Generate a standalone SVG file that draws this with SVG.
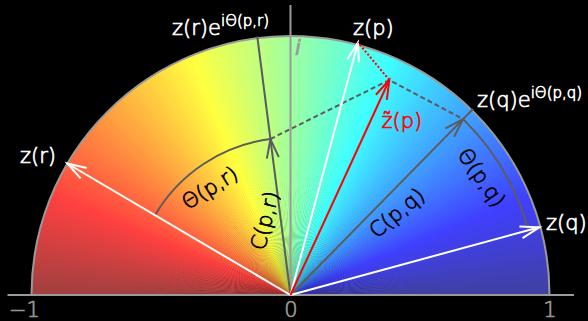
<svg xmlns="http://www.w3.org/2000/svg" xmlns:xlink="http://www.w3.org/1999/xlink" width="588" height="321" viewBox="0 0 588 321">
<style>
.t{font-family:"DejaVu Sans","Liberation Sans",sans-serif;font-size:21px;font-weight:200;stroke-width:0.7}
.w{fill:#fff;stroke:#fff}
.k{fill:#000;stroke:#000}
.rd{fill:#f00;stroke:#f00}
.g{fill:#9a9a9a;stroke:#9a9a9a}
.ax{stroke:#9a9a9a;stroke-width:2;fill:none}
.vw{stroke:#fff;stroke-width:2;fill:none}
.vr{stroke:#f00;stroke-width:2;fill:none}
.vg{stroke:#5c5c5c;stroke-width:2;fill:none}
.dash{stroke:#5c5c5c;stroke-width:2;fill:none;stroke-dasharray:5 3}
.dot{stroke:#f00;stroke-width:2;fill:none;stroke-dasharray:2 2}
</style>
<defs>
<polygon id="w" points="0,0 262,0 261.93,-5.94"/>
<clipPath id="half"><path d="M-259,0 A259,259 0 0 1 259,0 Z"/></clipPath>
<marker id="aw" markerUnits="userSpaceOnUse" markerWidth="24" markerHeight="16" viewBox="-22 -8 24 16" refX="0" refY="0" orient="auto" overflow="visible"><path d="M-19,-6 L0,0 L-19,6" fill="none" stroke="#fff" stroke-width="2"/></marker>
<marker id="ar" markerUnits="userSpaceOnUse" markerWidth="24" markerHeight="16" viewBox="-22 -8 24 16" refX="0" refY="0" orient="auto" overflow="visible"><path d="M-19,-6 L0,0 L-19,6" fill="none" stroke="#f00" stroke-width="2"/></marker>
<marker id="ag" markerUnits="userSpaceOnUse" markerWidth="24" markerHeight="16" viewBox="-22 -8 24 16" refX="0" refY="0" orient="auto" overflow="visible"><path d="M-19,-6 L0,0 L-19,6" fill="none" stroke="#5c5c5c" stroke-width="2"/></marker>
</defs>
<rect width="588" height="321" fill="#000"/>
<g id="wheel" transform="translate(290.5 295)" clip-path="url(#half)">
<use href="#w" fill="#4040a2"/>
<use href="#w" transform="rotate(-1)" fill="#4040a6"/>
<use href="#w" transform="rotate(-2)" fill="#4040aa"/>
<use href="#w" transform="rotate(-3)" fill="#4040ae"/>
<use href="#w" transform="rotate(-4)" fill="#4040b3"/>
<use href="#w" transform="rotate(-5)" fill="#4040b7"/>
<use href="#w" transform="rotate(-6)" fill="#4040bb"/>
<use href="#w" transform="rotate(-7)" fill="#4040bf"/>
<use href="#w" transform="rotate(-8)" fill="#4040c4"/>
<use href="#w" transform="rotate(-9)" fill="#4040c8"/>
<use href="#w" transform="rotate(-10)" fill="#4040cc"/>
<use href="#w" transform="rotate(-11)" fill="#4040d0"/>
<use href="#w" transform="rotate(-12)" fill="#4040d5"/>
<use href="#w" transform="rotate(-13)" fill="#4040d9"/>
<use href="#w" transform="rotate(-14)" fill="#4040dd"/>
<use href="#w" transform="rotate(-15)" fill="#4040e1"/>
<use href="#w" transform="rotate(-16)" fill="#4040e6"/>
<use href="#w" transform="rotate(-17)" fill="#4040ea"/>
<use href="#w" transform="rotate(-18)" fill="#4040ee"/>
<use href="#w" transform="rotate(-19)" fill="#4040f2"/>
<use href="#w" transform="rotate(-20)" fill="#4040f7"/>
<use href="#w" transform="rotate(-21)" fill="#4040fb"/>
<use href="#w" transform="rotate(-22)" fill="#4040ff"/>
<use href="#w" transform="rotate(-23)" fill="#4044ff"/>
<use href="#w" transform="rotate(-24)" fill="#4048ff"/>
<use href="#w" transform="rotate(-25)" fill="#404dff"/>
<use href="#w" transform="rotate(-26)" fill="#4051ff"/>
<use href="#w" transform="rotate(-27)" fill="#4055ff"/>
<use href="#w" transform="rotate(-28)" fill="#4059ff"/>
<use href="#w" transform="rotate(-29)" fill="#405eff"/>
<use href="#w" transform="rotate(-30)" fill="#4062ff"/>
<use href="#w" transform="rotate(-31)" fill="#4066ff"/>
<use href="#w" transform="rotate(-32)" fill="#406aff"/>
<use href="#w" transform="rotate(-33)" fill="#406fff"/>
<use href="#w" transform="rotate(-34)" fill="#4073ff"/>
<use href="#w" transform="rotate(-35)" fill="#4077ff"/>
<use href="#w" transform="rotate(-36)" fill="#407bff"/>
<use href="#w" transform="rotate(-37)" fill="#4080ff"/>
<use href="#w" transform="rotate(-38)" fill="#4084ff"/>
<use href="#w" transform="rotate(-39)" fill="#4088ff"/>
<use href="#w" transform="rotate(-40)" fill="#408cff"/>
<use href="#w" transform="rotate(-41)" fill="#4091ff"/>
<use href="#w" transform="rotate(-42)" fill="#4095ff"/>
<use href="#w" transform="rotate(-43)" fill="#4099ff"/>
<use href="#w" transform="rotate(-44)" fill="#409dff"/>
<use href="#w" transform="rotate(-45)" fill="#40a2ff"/>
<use href="#w" transform="rotate(-46)" fill="#40a6ff"/>
<use href="#w" transform="rotate(-47)" fill="#40aaff"/>
<use href="#w" transform="rotate(-48)" fill="#40aeff"/>
<use href="#w" transform="rotate(-49)" fill="#40b3ff"/>
<use href="#w" transform="rotate(-50)" fill="#40b7ff"/>
<use href="#w" transform="rotate(-51)" fill="#40bbff"/>
<use href="#w" transform="rotate(-52)" fill="#40bfff"/>
<use href="#w" transform="rotate(-53)" fill="#40c4ff"/>
<use href="#w" transform="rotate(-54)" fill="#40c8ff"/>
<use href="#w" transform="rotate(-55)" fill="#40ccff"/>
<use href="#w" transform="rotate(-56)" fill="#40d0ff"/>
<use href="#w" transform="rotate(-57)" fill="#40d5ff"/>
<use href="#w" transform="rotate(-58)" fill="#40d9ff"/>
<use href="#w" transform="rotate(-59)" fill="#40ddff"/>
<use href="#w" transform="rotate(-60)" fill="#40e1ff"/>
<use href="#w" transform="rotate(-61)" fill="#40e6ff"/>
<use href="#w" transform="rotate(-62)" fill="#40eaff"/>
<use href="#w" transform="rotate(-63)" fill="#40eeff"/>
<use href="#w" transform="rotate(-64)" fill="#40f2ff"/>
<use href="#w" transform="rotate(-65)" fill="#40f7ff"/>
<use href="#w" transform="rotate(-66)" fill="#40fbff"/>
<use href="#w" transform="rotate(-67)" fill="#40ffff"/>
<use href="#w" transform="rotate(-68)" fill="#44fffb"/>
<use href="#w" transform="rotate(-69)" fill="#48fff7"/>
<use href="#w" transform="rotate(-70)" fill="#4dfff2"/>
<use href="#w" transform="rotate(-71)" fill="#51ffee"/>
<use href="#w" transform="rotate(-72)" fill="#55ffea"/>
<use href="#w" transform="rotate(-73)" fill="#59ffe6"/>
<use href="#w" transform="rotate(-74)" fill="#5effe1"/>
<use href="#w" transform="rotate(-75)" fill="#62ffdd"/>
<use href="#w" transform="rotate(-76)" fill="#66ffd9"/>
<use href="#w" transform="rotate(-77)" fill="#6affd5"/>
<use href="#w" transform="rotate(-78)" fill="#6fffd0"/>
<use href="#w" transform="rotate(-79)" fill="#73ffcc"/>
<use href="#w" transform="rotate(-80)" fill="#77ffc8"/>
<use href="#w" transform="rotate(-81)" fill="#7bffc4"/>
<use href="#w" transform="rotate(-82)" fill="#80ffbf"/>
<use href="#w" transform="rotate(-83)" fill="#84ffbb"/>
<use href="#w" transform="rotate(-84)" fill="#88ffb7"/>
<use href="#w" transform="rotate(-85)" fill="#8cffb3"/>
<use href="#w" transform="rotate(-86)" fill="#91ffae"/>
<use href="#w" transform="rotate(-87)" fill="#95ffaa"/>
<use href="#w" transform="rotate(-88)" fill="#99ffa6"/>
<use href="#w" transform="rotate(-89)" fill="#9dffa2"/>
<use href="#w" transform="rotate(-90)" fill="#a2ff9d"/>
<use href="#w" transform="rotate(-91)" fill="#a6ff99"/>
<use href="#w" transform="rotate(-92)" fill="#aaff95"/>
<use href="#w" transform="rotate(-93)" fill="#aeff91"/>
<use href="#w" transform="rotate(-94)" fill="#b3ff8c"/>
<use href="#w" transform="rotate(-95)" fill="#b7ff88"/>
<use href="#w" transform="rotate(-96)" fill="#bbff84"/>
<use href="#w" transform="rotate(-97)" fill="#bfff80"/>
<use href="#w" transform="rotate(-98)" fill="#c4ff7b"/>
<use href="#w" transform="rotate(-99)" fill="#c8ff77"/>
<use href="#w" transform="rotate(-100)" fill="#ccff73"/>
<use href="#w" transform="rotate(-101)" fill="#d0ff6f"/>
<use href="#w" transform="rotate(-102)" fill="#d5ff6a"/>
<use href="#w" transform="rotate(-103)" fill="#d9ff66"/>
<use href="#w" transform="rotate(-104)" fill="#ddff62"/>
<use href="#w" transform="rotate(-105)" fill="#e1ff5e"/>
<use href="#w" transform="rotate(-106)" fill="#e6ff59"/>
<use href="#w" transform="rotate(-107)" fill="#eaff55"/>
<use href="#w" transform="rotate(-108)" fill="#eeff51"/>
<use href="#w" transform="rotate(-109)" fill="#f2ff4d"/>
<use href="#w" transform="rotate(-110)" fill="#f7ff48"/>
<use href="#w" transform="rotate(-111)" fill="#fbff44"/>
<use href="#w" transform="rotate(-112)" fill="#ffff40"/>
<use href="#w" transform="rotate(-113)" fill="#fffb40"/>
<use href="#w" transform="rotate(-114)" fill="#fff740"/>
<use href="#w" transform="rotate(-115)" fill="#fff240"/>
<use href="#w" transform="rotate(-116)" fill="#ffee40"/>
<use href="#w" transform="rotate(-117)" fill="#ffea40"/>
<use href="#w" transform="rotate(-118)" fill="#ffe640"/>
<use href="#w" transform="rotate(-119)" fill="#ffe140"/>
<use href="#w" transform="rotate(-120)" fill="#ffdd40"/>
<use href="#w" transform="rotate(-121)" fill="#ffd940"/>
<use href="#w" transform="rotate(-122)" fill="#ffd540"/>
<use href="#w" transform="rotate(-123)" fill="#ffd040"/>
<use href="#w" transform="rotate(-124)" fill="#ffcc40"/>
<use href="#w" transform="rotate(-125)" fill="#ffc840"/>
<use href="#w" transform="rotate(-126)" fill="#ffc440"/>
<use href="#w" transform="rotate(-127)" fill="#ffbf40"/>
<use href="#w" transform="rotate(-128)" fill="#ffbb40"/>
<use href="#w" transform="rotate(-129)" fill="#ffb740"/>
<use href="#w" transform="rotate(-130)" fill="#ffb340"/>
<use href="#w" transform="rotate(-131)" fill="#ffae40"/>
<use href="#w" transform="rotate(-132)" fill="#ffaa40"/>
<use href="#w" transform="rotate(-133)" fill="#ffa640"/>
<use href="#w" transform="rotate(-134)" fill="#ffa240"/>
<use href="#w" transform="rotate(-135)" fill="#ff9d40"/>
<use href="#w" transform="rotate(-136)" fill="#ff9940"/>
<use href="#w" transform="rotate(-137)" fill="#ff9540"/>
<use href="#w" transform="rotate(-138)" fill="#ff9140"/>
<use href="#w" transform="rotate(-139)" fill="#ff8c40"/>
<use href="#w" transform="rotate(-140)" fill="#ff8840"/>
<use href="#w" transform="rotate(-141)" fill="#ff8440"/>
<use href="#w" transform="rotate(-142)" fill="#ff8040"/>
<use href="#w" transform="rotate(-143)" fill="#ff7b40"/>
<use href="#w" transform="rotate(-144)" fill="#ff7740"/>
<use href="#w" transform="rotate(-145)" fill="#ff7340"/>
<use href="#w" transform="rotate(-146)" fill="#ff6f40"/>
<use href="#w" transform="rotate(-147)" fill="#ff6a40"/>
<use href="#w" transform="rotate(-148)" fill="#ff6640"/>
<use href="#w" transform="rotate(-149)" fill="#ff6240"/>
<use href="#w" transform="rotate(-150)" fill="#ff5e40"/>
<use href="#w" transform="rotate(-151)" fill="#ff5940"/>
<use href="#w" transform="rotate(-152)" fill="#ff5540"/>
<use href="#w" transform="rotate(-153)" fill="#ff5140"/>
<use href="#w" transform="rotate(-154)" fill="#ff4d40"/>
<use href="#w" transform="rotate(-155)" fill="#ff4840"/>
<use href="#w" transform="rotate(-156)" fill="#ff4440"/>
<use href="#w" transform="rotate(-157)" fill="#ff4040"/>
<use href="#w" transform="rotate(-158)" fill="#fb4040"/>
<use href="#w" transform="rotate(-159)" fill="#f74040"/>
<use href="#w" transform="rotate(-160)" fill="#f24040"/>
<use href="#w" transform="rotate(-161)" fill="#ee4040"/>
<use href="#w" transform="rotate(-162)" fill="#ea4040"/>
<use href="#w" transform="rotate(-163)" fill="#e64040"/>
<use href="#w" transform="rotate(-164)" fill="#e14040"/>
<use href="#w" transform="rotate(-165)" fill="#dd4040"/>
<use href="#w" transform="rotate(-166)" fill="#d94040"/>
<use href="#w" transform="rotate(-167)" fill="#d54040"/>
<use href="#w" transform="rotate(-168)" fill="#d04040"/>
<use href="#w" transform="rotate(-169)" fill="#cc4040"/>
<use href="#w" transform="rotate(-170)" fill="#c84040"/>
<use href="#w" transform="rotate(-171)" fill="#c44040"/>
<use href="#w" transform="rotate(-172)" fill="#bf4040"/>
<use href="#w" transform="rotate(-173)" fill="#bb4040"/>
<use href="#w" transform="rotate(-174)" fill="#b74040"/>
<use href="#w" transform="rotate(-175)" fill="#b34040"/>
<use href="#w" transform="rotate(-176)" fill="#ae4040"/>
<use href="#w" transform="rotate(-177)" fill="#aa4040"/>
<use href="#w" transform="rotate(-178)" fill="#a64040"/>
<use href="#w" transform="rotate(-179)" fill="#a24040"/>
</g>
<g id="axes">
<path class="ax" d="M7.5,295 H574"/>
<path class="ax" d="M290.5,5 V295"/>
<path class="ax" d="M31.5,295 A259,259 0 0 1 549.5,295"/>
</g>
<g id="connectors">
<path class="vg" d="M155,215.2 A157.3,157.3 0 0 1 270.4,139"/>
<path class="vg" d="M463.1,119.1 A246.5,246.5 0 0 1 528.4,230.3"/>
<path class="dash" d="M270.4,139 L389.3,80 L463.1,119.1"/>
<path class="vg" d="M290.5,295 L270.4,139" marker-end="url(#ag)"/>
<path class="vg" d="M270.4,139 L257.3,36.5"/>
<path class="vg" d="M290.5,295 L463.1,119.1" marker-end="url(#ag)"/>
<path class="vg" d="M463.1,119.1 L473,109"/>
<path class="vw" d="M290.5,295 L67.3,163.5" marker-end="url(#aw)"/>
<path class="vw" d="M290.5,295 L358,42.5" marker-end="url(#aw)"/>
<path class="vw" d="M290.5,295 L539.3,227.3" marker-end="url(#aw)"/>
<path class="dot" d="M389.3,80 L358,42.5"/>
<path class="vr" d="M290.5,295 L389.3,80" marker-end="url(#ar)"/>
</g>
<g id="label-zr-rot"><text class="t w" x="172" y="35">z(r)e<tspan font-size="15" dy="-9">iΘ(p,r)</tspan></text></g>
<g id="label-zp"><text class="t w" x="353" y="35">z(p)</text></g>
<g id="label-zq-rot"><text class="t w" x="477" y="106.5">z(q)e<tspan font-size="15" dy="-9">iΘ(p,q)</tspan></text></g>
<g id="label-ztilde"><text class="t rd" x="381.5" y="128">z̃(p)</text></g>
<g id="label-zr"><text class="t w" x="20" y="163">z(r)</text></g>
<g id="label-zq"><text class="t w" x="546" y="230">z(q)</text></g>
<g id="label-i"><text class="t g" x="295" y="55" font-style="italic">i</text></g>
<g id="label-theta-pr"><text class="t k" text-anchor="middle" y="7" transform="translate(210 188) rotate(-32)">Θ(p,r)</text></g>
<g id="label-c-pr"><text class="t k" text-anchor="middle" y="7" transform="translate(265 220.5) rotate(-76)">C(p,r)</text></g>
<g id="label-c-pq"><text class="t k" text-anchor="middle" y="7" transform="translate(397 213) rotate(-40)">C(p,q)</text></g>
<g id="label-theta-pq"><text class="t k" text-anchor="middle" y="7" transform="translate(481.5 177.5) rotate(55)">Θ(p,q)</text></g>
<g id="ticks">
<text class="t g" font-size="26" x="9" y="317">−1</text>
<text class="t g" font-size="26" x="291" y="317" text-anchor="middle">0</text>
<text class="t g" font-size="26" x="550" y="317" text-anchor="middle">1</text>
</g>
</svg>
